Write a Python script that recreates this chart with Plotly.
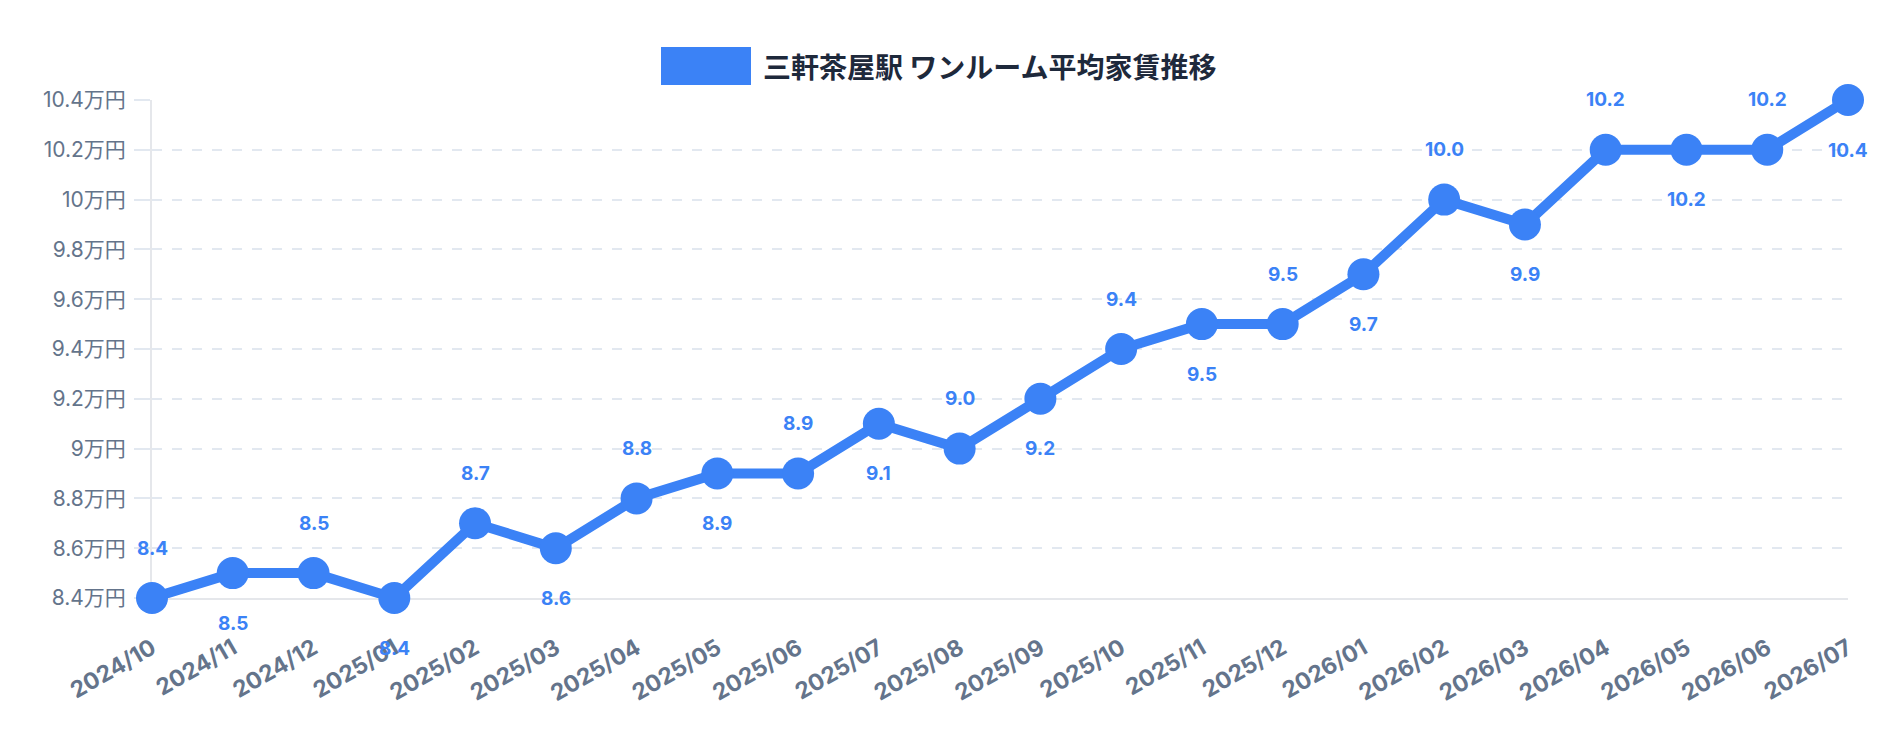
import plotly.graph_objects as go

series_name = "三軒茶屋駅 ワンルーム平均家賃推移"
months = ["2024/10", "2024/11", "2024/12", "2025/01", "2025/02", "2025/03", "2025/04",
          "2025/05", "2025/06", "2025/07", "2025/08", "2025/09", "2025/10", "2025/11",
          "2025/12", "2026/01", "2026/02", "2026/03", "2026/04", "2026/05", "2026/06", "2026/07"]
rent = [8.4, 8.5, 8.5, 8.4, 8.7, 8.6, 8.8, 8.9, 8.9, 9.1, 9.0, 9.2, 9.4, 9.5,
        9.5, 9.7, 10.0, 9.9, 10.2, 10.2, 10.2, 10.4]
y_ticks = [8.4, 8.6, 8.8, 9.0, 9.2, 9.4, 9.6, 9.8, 10.0, 10.2, 10.4]
y_tick_labels = ["8.4万円", "8.6万円", "8.8万円", "9万円", "9.2万円", "9.4万円",
                 "9.6万円", "9.8万円", "10万円", "10.2万円", "10.4万円"]

BLUE = "#3b82f6"
GRID = "#e2e8f0"
TICK = "#64748b"
LATIN = "Inter, 'Noto Sans CJK JP', sans-serif"

fig = go.Figure()
fig.add_trace(go.Scatter(
    x=months, y=rent, mode="lines+markers", name=series_name,
    line=dict(color=BLUE, width=10),
    marker=dict(color=BLUE, size=32),
    cliponaxis=False, showlegend=False,
))

for i, (m, v) in enumerate(zip(months, rent)):
    fig.add_annotation(
        x=m, y=v, text=f"{v:.1f}", showarrow=False,
        yshift=50 if i % 2 == 0 else -50,
        font=dict(family=LATIN, size=19, color=BLUE, weight="bold"),
    )

# legend (drawn manually to match the wide colour box)
fig.add_shape(type="rect", xref="paper", yref="paper",
              x0=(661 - 152) / 1696, x1=(751 - 152) / 1696,
              y0=(598 - 85) / 498, y1=(598 - 47) / 498,
              fillcolor=BLUE, line=dict(width=0))
fig.add_annotation(xref="paper", yref="paper",
                   x=(761 - 152) / 1696, y=(598 - 66) / 498,
                   xanchor="left", yanchor="middle", showarrow=False,
                   text=series_name,
                   font=dict(family="'Noto Sans CJK JP', sans-serif", size=28,
                             color="#1e293b", weight="bold"))

fig.update_layout(
    width=1880, height=732,
    margin=dict(l=152, r=32, t=100, b=134),
    plot_bgcolor="white", paper_bgcolor="white",
    showlegend=False,
    xaxis=dict(
        type="category", range=[0, len(months) - 1],
        showgrid=False, zeroline=False,
        showline=True, linecolor="#e5e7eb", linewidth=2, layer="below traces",
        ticks="", tickangle=-30,
        ticklabelstandoff=26,
        tickfont=dict(family=LATIN, size=23, color=TICK, weight="bold"),
    ),
    yaxis=dict(
        range=[8.4, 10.4], tickvals=y_ticks, ticktext=y_tick_labels,
        showgrid=True, gridcolor=GRID, griddash="10px,10px", gridwidth=2,
        zeroline=False, layer="below traces",
        showline=True, linecolor="#e5e7eb", linewidth=2,
        ticks="outside", ticklen=16, tickcolor=GRID, tickwidth=2,
        ticklabelstandoff=4,
        tickfont=dict(family=LATIN, size=21, color=TICK),
    ),
)

fig.write_html("out.html")
